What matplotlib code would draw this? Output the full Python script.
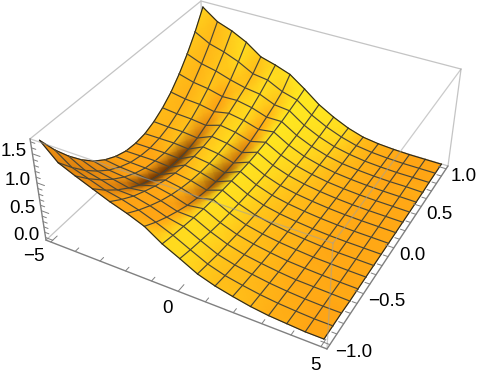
import numpy as np
from matplotlib import pyplot as plt
from matplotlib.colors import LinearSegmentedColormap

plt.rcParams['font.family'] = ['Liberation Sans', 'DejaVu Sans']

x_nodes = np.linspace(-5, 5, 17)
y_nodes = np.linspace(1, -1, 17)  # back to front, so later strips paint over earlier ones

# surface height, rows y = 1 .. -1, columns x = -5 .. 5
z_grid = np.array([
    [1.70, 1.50, 1.40, 1.26, 1.06, .98, .88, .68, .46, .30, .17, .08, .04, .02, .01, .01, .01],
    [1.37, 1.22, 1.14, 1.03, .88, .84, .70, .62, .415, .27, .16, .08, .04, .02, .01, .01, .01],
    [1.09, .98, .92, .83, .76, .72, .60, .57, .375, .24, .14, .08, .04, .02, .01, .01, .01],
    [.85, .77, .73, .66, .67, .615, .52, .52, .345, .22, .13, .07, .04, .02, .01, .01, .00],
    [.65, .60, .58, .525, .58, .53, .445, .485, .32, .20, .125, .07, .04, .02, .01, .005, .00],
    [.50, .47, .455, .42, .51, .465, .38, .455, .30, .19, .12, .07, .04, .02, .01, .005, .00],
    [.39, .375, .37, .34, .46, .42, .335, .435, .28, .18, .115, .07, .04, .02, .01, .005, .00],
    [.32, .32, .32, .295, .43, .39, .31, .42, .27, .17, .11, .07, .04, .02, .01, .005, .00],
    [.30, .30, .30, .28, .42, .38, .30, .42, .27, .17, .11, .07, .04, .02, .01, .005, .00],
    [.32, .32, .32, .295, .43, .39, .31, .425, .275, .17, .11, .07, .04, .02, .01, .005, .00],
    [.39, .37, .36, .335, .46, .415, .335, .435, .285, .18, .12, .075, .045, .02, .01, .005, .00],
    [.50, .46, .44, .405, .51, .46, .375, .45, .30, .19, .125, .08, .05, .025, .015, .005, .00],
    [.65, .58, .55, .50, .58, .52, .43, .47, .32, .21, .14, .09, .05, .03, .015, .005, .00],
    [.85, .74, .69, .63, .67, .60, .51, .50, .35, .23, .15, .10, .06, .03, .02, .01, .00],
    [1.09, .93, .86, .78, .77, .70, .60, .54, .39, .25, .17, .115, .07, .04, .02, .01, .01],
    [1.37, 1.16, 1.06, .96, .90, .815, .705, .58, .43, .285, .19, .13, .08, .045, .025, .01, .01],
    [1.70, 1.42, 1.29, 1.17, 1.05, .95, .83, .63, .48, .32, .22, .15, .09, .05, .03, .01, .01],
])

x_ticks = [-5, 0, 5]
y_ticks = [-1.0, -0.5, 0.0, 0.5, 1.0]
z_ticks = [0.0, 0.5, 1.0, 1.5]

x0, x1 = -5.2, 5.2
y0, y1 = -1.04, 1.04
z0, z1 = -0.05, 1.75

# box corners and where they land in the picture, used to fit the camera
box_world = [(x0, y0, z0), (x1, y0, z0), (x1, y1, z0), (x0, y0, z1), (x0, y1, z1), (x1, y1, z1), (x1, y0, z1)]
box_pixel = [(46, 240), (327, 349), (448, 166), (30, 139), (201, 1), (461, 69), (333, 243)]


def fit_camera(world, pixel):
    rows = []
    rhs = []
    for (wx, wy, wz), (px, py) in zip(world, pixel):
        rows.append([wx, wy, wz, 1, 0, 0, 0, 0, -px * wx, -px * wy, -px * wz])
        rows.append([0, 0, 0, 0, wx, wy, wz, 1, -py * wx, -py * wy, -py * wz])
        rhs += [px, py]
    sol = np.linalg.lstsq(np.array(rows, float), np.array(rhs, float), rcond=None)[0]
    return np.append(sol, 1).reshape(3, 4)


cam = fit_camera(box_world, box_pixel)


def project(x, y, z):
    x, y, z = np.broadcast_arrays(x, y, z)
    w = cam[2, 0] * x + cam[2, 1] * y + cam[2, 2] * z + cam[2, 3]
    u = (cam[0, 0] * x + cam[0, 1] * y + cam[0, 2] * z + cam[0, 3]) / w
    v = (cam[1, 0] * x + cam[1, 1] * y + cam[1, 2] * z + cam[1, 3]) / w
    return u, v


def line3d(ax, a, b, **kw):
    u, v = project(np.array([a[0], b[0]]), np.array([a[1], b[1]]), np.array([a[2], b[2]]))
    ax.plot(u, v, solid_capstyle='round', **kw)


fig = plt.figure(figsize=(4.82, 3.79), dpi=100)
ax = fig.add_axes([0, 0, 1, 1])
ax.set_xlim(0, 482)
ax.set_ylim(379, 0)
ax.axis('off')

BOX = '#c4c4c4'
AXIS = '#808080'

# back of the box, behind the surface
for a, b in [((x0, y0, z0), (x0, y1, z0)), ((x0, y1, z0), (x1, y1, z0)), ((x0, y1, z0), (x0, y1, z1)),
             ((x0, y0, z1), (x0, y1, z1)), ((x0, y1, z1), (x1, y1, z1)), ((x1, y1, z1), (x1, y1, z0))]:
    line3d(ax, a, b, color=BOX, lw=0.9, zorder=1)

# shading from the slope of the table, forward difference keeps the narrow ridges
dz_dy = np.gradient(z_grid, y_nodes, axis=0)
dz_dx = np.gradient(z_grid, x_nodes, axis=1)
dz_dx[:, :-1] = np.diff(z_grid, axis=1) / np.diff(x_nodes)
norm = np.sqrt(dz_dx ** 2 + dz_dy ** 2 + 1)
shade = (-dz_dx * 1.5 + dz_dy * 0.2 + 0.6) / norm ** 0.7 - 1.2 * np.clip(dz_dx, 0, None)

cmap = LinearSegmentedColormap.from_list('gold', [
    (0.0, '#6b3000'), (0.15, '#c8700a'), (0.3, '#e88a10'), (0.45, '#ffa514'), (0.6, '#ffa514'),
    (0.8, '#ffd81e'), (1.0, '#ffe820')])

X, Y = np.meshgrid(x_nodes, y_nodes)
U, V = project(X, Y, z_grid)
MESH = '#4b4636'

for j in range(len(y_nodes) - 1):
    order = 10 + j * 2
    ax.pcolormesh(U[j:j + 2], V[j:j + 2], shade[j:j + 2], shading='gouraud', cmap=cmap, vmin=0, vmax=1,
                  zorder=order)
    # mesh lines of this strip
    for i in range(len(x_nodes)):
        edge = i == 0 or i == len(x_nodes) - 1
        ax.plot(U[j:j + 2, i], V[j:j + 2, i], color='#2a2a22' if edge else MESH, lw=0.85, zorder=order + 1)
    edge = j == 0
    ax.plot(U[j], V[j], color='#2a2a22' if edge else MESH, lw=0.85, zorder=order + 1)
ax.plot(U[-1], V[-1], color='#2a2a22', lw=0.85, zorder=100)

# front of the box shows faintly through the surface
for a, b in [((x0, y0, z1), (x1, y0, z1)), ((x1, y0, z1), (x1, y1, z1)), ((x1, y0, z0), (x1, y0, z1))]:
    line3d(ax, a, b, color='#a0a0a0', lw=0.9, alpha=0.55, zorder=110)

# axes
line3d(ax, (x0, y0, z0), (x1, y0, z0), color=AXIS, lw=1.0, zorder=120)
line3d(ax, (x1, y0, z0), (x1, y1, z0), color=AXIS, lw=1.0, zorder=120)
line3d(ax, (x0, y0, z0), (x0, y0, z1), color=AXIS, lw=1.0, zorder=120)

for t in np.arange(-5, 5.01, 1):
    size = 0.07 if t in x_ticks else 0.04
    line3d(ax, (t, y0, z0), (t, y0 + size, z0), color=AXIS, lw=0.7, zorder=120)
for t in np.arange(-1, 1.01, 0.1):
    size = 0.3 if round(t, 1) in y_ticks else 0.17
    line3d(ax, (x1, t, z0), (x1 - size, t, z0), color=AXIS, lw=0.7, zorder=120)
for t in np.arange(0, 1.71, 0.1):
    size = 0.3 if round(t, 1) in z_ticks else 0.17
    line3d(ax, (x0, y0, t), (x0 + size, y0, t), color=AXIS, lw=0.7, zorder=120)

FS = 13.5
for t in x_ticks:
    u, v = project(t, y0, z0)
    ax.text(u - 11 + t * 1.1, v + 17 + t * 0.4, str(t).replace('-', '\u2212'), fontsize=FS,
            ha='center', va='center', zorder=130)
for t in y_ticks:
    u, v = project(x1, t, z0)
    ax.text(u + 5, v + 8, f'{t:.1f}'.replace('-', '\u2212'), fontsize=FS, ha='left', va='center', zorder=130)
for t in z_ticks:
    u, v = project(x0, y0, t)
    ax.text(u - 6, v - 2, f'{t:.1f}', fontsize=FS, ha='right', va='center', zorder=130)

fig.savefig('out.png', dpi=100)
